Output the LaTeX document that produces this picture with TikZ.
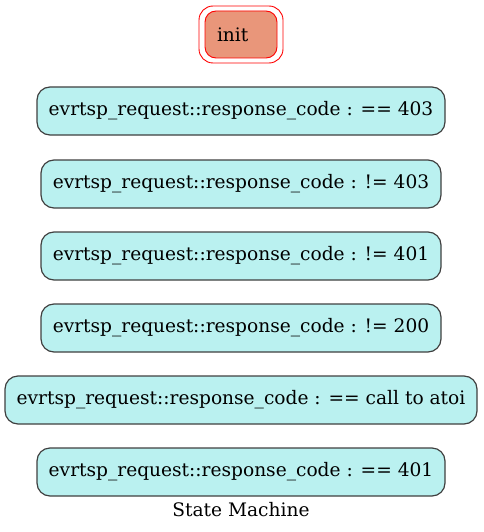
\documentclass[tikz,border=0pt]{standalone}
\usepackage{fontspec}
\setmainfont{DejaVu Serif}
\definecolor{boxfill}{HTML}{BAF1F0}
\definecolor{boxline}{HTML}{404040}
\definecolor{initfill}{HTML}{E9967A}
\begin{document}
\begin{tikzpicture}[x=1pt,y=-1pt,
  state/.style={draw=boxline, fill=boxfill, rounded corners=13pt, line width=1.2pt,
    minimum height=48pt, inner sep=0pt, font=\fontsize{18.6}{22}\selectfont},
]
\useasboundingbox (0,0) rectangle (483,532);
\node[draw=red, rounded corners=14pt, minimum width=84pt, minimum height=57pt, line width=0.9pt] (initouter) at (241,34.5) {};
\node[draw=red, fill=initfill, rounded corners=11pt, minimum width=72pt, minimum height=47pt, line width=0.9pt, font=\fontsize{18.6}{22}\selectfont, text width=48pt, align=left, inner sep=0pt] (init) at (241,34.5) {init};
\node[state, minimum width=408pt] (s1) at (241,111) {evrtsp\_request::response\_code : == 403};
\node[state, minimum width=400pt] (s2) at (241,184) {evrtsp\_request::response\_code : != 403};
\node[state, minimum width=400pt] (s3) at (241,256) {evrtsp\_request::response\_code : != 401};
\node[state, minimum width=400pt] (s4) at (241,328) {evrtsp\_request::response\_code : != 200};
\node[state, minimum width=472pt] (s5) at (241,400) {evrtsp\_request::response\_code : == call to atoi};
\node[state, minimum width=408pt] (s6) at (241,472) {evrtsp\_request::response\_code : == 401};
\node[font=\fontsize{18.6}{22}\selectfont] (title) at (241,510) {State Machine};
\end{tikzpicture}
\end{document}
